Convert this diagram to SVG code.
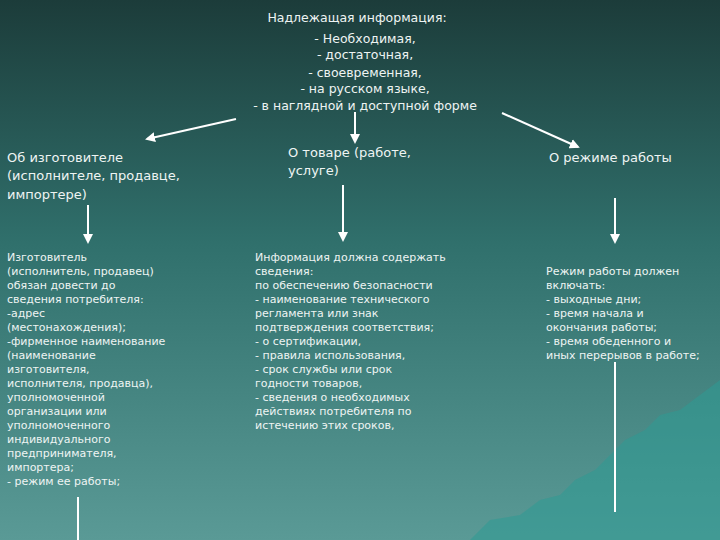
<svg xmlns="http://www.w3.org/2000/svg" width="720" height="540" viewBox="0 0 720 540">
<defs>
<linearGradient id="bg" x1="0" y1="0" x2="0" y2="1">
<stop offset="0" stop-color="#1c3c3a"/>
<stop offset="0.45" stop-color="#30706c"/>
<stop offset="1" stop-color="#5a9a96"/>
</linearGradient>
<marker id="ah" viewBox="0 0 10 10" refX="8" refY="5" markerWidth="5" markerHeight="5" orient="auto"><path d="M0,0 L10,5 L0,10 z" fill="#ffffff"/></marker>
<style>
text{font-family:"DejaVu Sans","Liberation Sans",sans-serif;fill:#eef4f3;font-size:11px}
.h{font-size:13px}
.t{font-size:12.5px}
line{stroke:#ffffff;stroke-width:2}
</style>
</defs>
<rect width="720" height="540" fill="url(#bg)"/>
<path d="M470,540 L490,520 L520,515 L540,500 L560,495 L575,480 L595,470 L610,455 L625,440 L645,430 L660,415 L680,410 L700,395 L720,380 L720,540 Z" fill="#2e9a94" opacity="0.55"/>
<g id="top">
<text x="357" y="22" text-anchor="middle" class="t">Надлежащая информация:</text>
<text x="365" y="43" text-anchor="middle" class="t">- Необходимая,</text>
<text x="365" y="59" text-anchor="middle" class="t">- достаточная,</text>
<text x="365" y="77" text-anchor="middle" class="t">- своевременная,</text>
<text x="365" y="93" text-anchor="middle" class="t">- на русском языке,</text>
<text x="365" y="110" text-anchor="middle" class="t">- в наглядной и доступной форме</text>
</g>
<g id="connectors">
<line x1="236" y1="119" x2="147" y2="139" marker-end="url(#ah)"/>
<line x1="355" y1="112" x2="355" y2="142" marker-end="url(#ah)"/>
<line x1="502" y1="113" x2="578" y2="147" marker-end="url(#ah)"/>
<line x1="88" y1="205" x2="88" y2="242" marker-end="url(#ah)"/>
<line x1="343" y1="185" x2="343" y2="240" marker-end="url(#ah)"/>
<line x1="615" y1="198" x2="615" y2="242" marker-end="url(#ah)"/>
<line x1="78" y1="497" x2="78" y2="540"/>
<line x1="615" y1="362" x2="615" y2="512"/>
</g>
<g id="n1">
<text class="h" x="7" y="162">Об изготовителе</text>
<text class="h" x="7" y="180">(исполнителе, продавце,</text>
<text class="h" x="7" y="199">импортере)</text>
</g>
<g id="n2">
<text class="h" x="288" y="157">О товаре (работе,</text>
<text class="h" x="288" y="175">услуге)</text>
</g>
<g id="n3">
<text class="h" x="549" y="162">О режиме работы</text>
</g>
<g id="d1">
<text x="7" y="261">Изготовитель</text>
<text x="7" y="275">(исполнитель, продавец)</text>
<text x="7" y="289">обязан довести до</text>
<text x="7" y="303">сведения потребителя:</text>
<text x="7" y="317">-адрес</text>
<text x="7" y="331">(местонахождения);</text>
<text x="7" y="345">-фирменное наименование</text>
<text x="7" y="359">(наименование</text>
<text x="7" y="373">изготовителя,</text>
<text x="7" y="387">исполнителя, продавца),</text>
<text x="7" y="401">уполномоченной</text>
<text x="7" y="415">организации или</text>
<text x="7" y="429">уполномоченного</text>
<text x="7" y="443">индивидуального</text>
<text x="7" y="457">предпринимателя,</text>
<text x="7" y="471">импортера;</text>
<text x="7" y="485">- режим ее работы;</text>
</g>
<g id="d2">
<text x="255" y="261">Информация должна содержать</text>
<text x="255" y="275">сведения:</text>
<text x="255" y="289">по обеспечению безопасности</text>
<text x="255" y="303">- наименование технического</text>
<text x="255" y="317">регламента или знак</text>
<text x="255" y="331">подтверждения соответствия;</text>
<text x="255" y="345">- о сертификации,</text>
<text x="255" y="359">- правила использования,</text>
<text x="255" y="373">- срок службы или срок</text>
<text x="255" y="387">годности товаров,</text>
<text x="255" y="401">- сведения о необходимых</text>
<text x="255" y="415">действиях потребителя по</text>
<text x="255" y="429">истечению этих сроков,</text>
</g>
<g id="d3">
<text x="546" y="275">Режим работы должен</text>
<text x="546" y="289">включать:</text>
<text x="546" y="303">- выходные дни;</text>
<text x="546" y="317">- время начала и</text>
<text x="546" y="331">окончания работы;</text>
<text x="546" y="345">- время обеденного и</text>
<text x="546" y="359">иных перерывов в работе;</text>
</g>
</svg>
